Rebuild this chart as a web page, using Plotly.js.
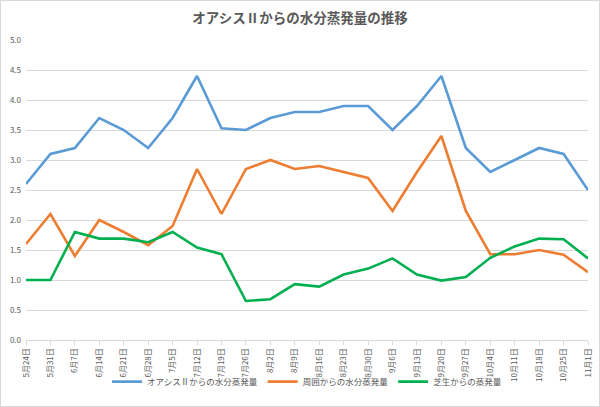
<!DOCTYPE html>
<html>
<head>
<meta charset="utf-8">
<script src="https://cdn.plot.ly/plotly-3.0.1.min.js"></script>
<style>
html,body{margin:0;padding:0;background:#fff;}
#wrap{width:598px;height:405px;border:1px solid #d9d9d9;}
#chart{width:598px;height:405px;}
</style>
</head>
<body>
<div id="wrap"><div id="chart"></div></div>
<script>
const categories = ["5月24日","5月31日","6月7日","6月14日","6月21日","6月28日","7月5日","7月12日","7月19日","7月26日","8月2日","8月9日","8月16日","8月23日","8月30日","9月6日","9月13日","9月20日","9月27日","10月4日","10月11日","10月18日","10月25日","11月1日"];
const oasis = [2.6,3.1,3.2,3.7,3.5,3.2,3.7,4.4,3.53,3.5,3.7,3.8,3.8,3.9,3.9,3.5,3.9,4.4,3.2,2.8,3.0,3.2,3.1,2.5];
const surround = [1.6,2.1,1.4,2.0,1.8,1.58,1.9,2.85,2.1,2.85,3.0,2.85,2.9,2.8,2.7,2.15,2.8,3.4,2.15,1.43,1.43,1.5,1.42,1.13];
const lawn = [1.0,1.0,1.8,1.69,1.69,1.63,1.8,1.54,1.43,0.65,0.68,0.93,0.89,1.09,1.19,1.36,1.09,0.99,1.05,1.37,1.56,1.69,1.68,1.36];
const seriesNames = ["オアシスⅡからの水分蒸発量","周囲からの水分蒸発量","芝生からの蒸発量"];
const colors = ["#5B9BD5","#ED7D31","#00B050"];

const font = "'Noto Sans CJK JP','Noto Sans',sans-serif";
const data = [oasis, surround, lawn].map((ys,i)=>({
  x: categories, y: ys, type:'scatter', mode:'lines', name: seriesNames[i],
  line:{color:colors[i], width:2.6}
}));

const layout = {
  width:598, height:405,
  margin:{l:25, r:11, t:39, b:65},
  paper_bgcolor:'#fff', plot_bgcolor:'#fff',
  font:{family:font, color:'#595959'},
  title:{text:'オアシスⅡからの水分蒸発量の推移', font:{family:font, size:13.5, color:'#595959', weight:'bold'}, x:0.5, xanchor:'center', y:0.958, yanchor:'middle', yref:'container'},
  xaxis:{type:'category', range:[0,23], tickangle:-90, tickfont:{size:8, color:'#595959'},
    showgrid:false, showline:true, linecolor:'#d9d9d9', linewidth:1, ticks:'outside', ticklen:4, tickcolor:'#d9d9d9', zeroline:false, fixedrange:true, automargin:false},
  yaxis:{range:[0,5], dtick:0.5, tickformat:'.1f', tickfont:{size:8, color:'#595959'},
    showgrid:true, gridcolor:'#d9d9d9', gridwidth:1, zeroline:false, showline:false, ticks:'', ticklabelstandoff:4, automargin:false},
  showlegend:true,
  legend:{orientation:'h', x:0.5, xanchor:'center', y:-0.135, yanchor:'middle', bgcolor:'rgba(0,0,0,0)', font:{size:8.5, color:'#595959', family:font}, itemwidth:30, tracegroupgap:0}
};

Plotly.newPlot('chart', data, layout, {displayModeBar:false, staticPlot:true});
</script>
</body>
</html>
